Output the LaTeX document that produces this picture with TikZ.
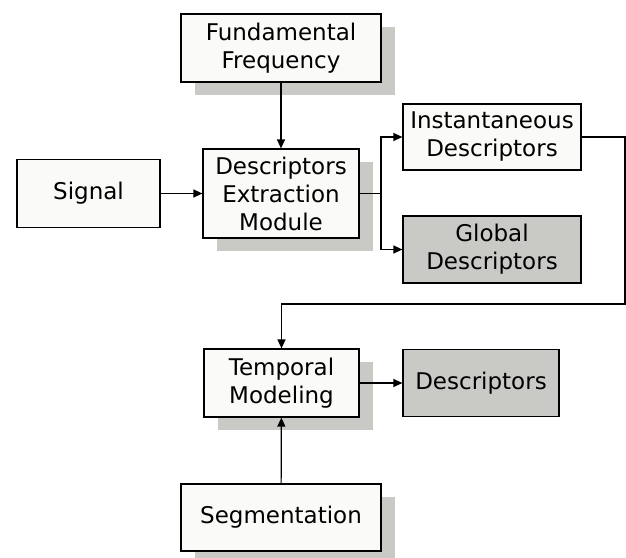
\documentclass[tikz,border=0pt]{standalone}
\usepackage{fontspec}
\setmainfont{DejaVu Sans}
\usetikzlibrary{arrows.meta,shadows}
\definecolor{shadowgray}{HTML}{C9CAC5}
\definecolor{boxfill}{HTML}{FAFAF8}
\tikzset{
  box/.style={draw=black, line width=1.2pt, fill=boxfill, align=center, inner sep=0pt,
    font=\fontsize{23}{28}\selectfont},
  shadowed/.style={drop shadow={shadow xshift=14pt, shadow yshift=-13pt, fill=shadowgray, opacity=1}},
  graybox/.style={box, fill=shadowgray},
  conn/.style={line width=1.2pt, -{Triangle[length=9pt,width=8pt]}},
}
\begin{document}
\begin{tikzpicture}[x=1pt,y=-1pt]
\useasboundingbox (0,0) rectangle (626,557);
\clip (0,0) rectangle (626,557);
\node[box, shadowed, minimum width=200pt, minimum height=68pt] (ff) at (281,48) {Fundamental\\Frequency};
\node[box, shadowed, minimum width=156pt, minimum height=89pt] (dem) at (281,193.5) {Descriptors\\Extraction\\Module};
\node[box, minimum width=143pt, minimum height=68pt] (sig) at (88.5,193.5) {Signal};
\node[box, minimum width=178pt, minimum height=66pt] (inst) at (492,137) {Instantaneous\\Descriptors};
\node[graybox, minimum width=178pt, minimum height=67pt] (glob) at (492,249.5) {Global\\Descriptors};
\node[box, shadowed, minimum width=155pt, minimum height=68pt] (tm) at (281.5,383) {Temporal\\Modeling};
\node[graybox, minimum width=156pt, minimum height=67pt] (desc) at (481,383) {Descriptors};
\node[box, shadowed, minimum width=200pt, minimum height=67pt] (seg) at (281,517.5) {Segmentation};
\coordinate (br) at (381,193.5);
\coordinate (fbtop) at (625,137);
\coordinate (fbbot) at (625,304);
\draw[conn] (ff) -- (dem);
\draw[conn] (sig) -- (dem);
\draw[line width=1.2pt] (dem.east) -- (br);
\draw[conn] (br) |- (inst.west);
\draw[conn] (br) |- (glob.west);
\draw[conn] (inst.east) -- (fbtop) -- (fbbot) -| (tm.north);
\draw[conn] (tm) -- (desc);
\draw[conn] (seg) -- (tm);
\end{tikzpicture}
\end{document}
